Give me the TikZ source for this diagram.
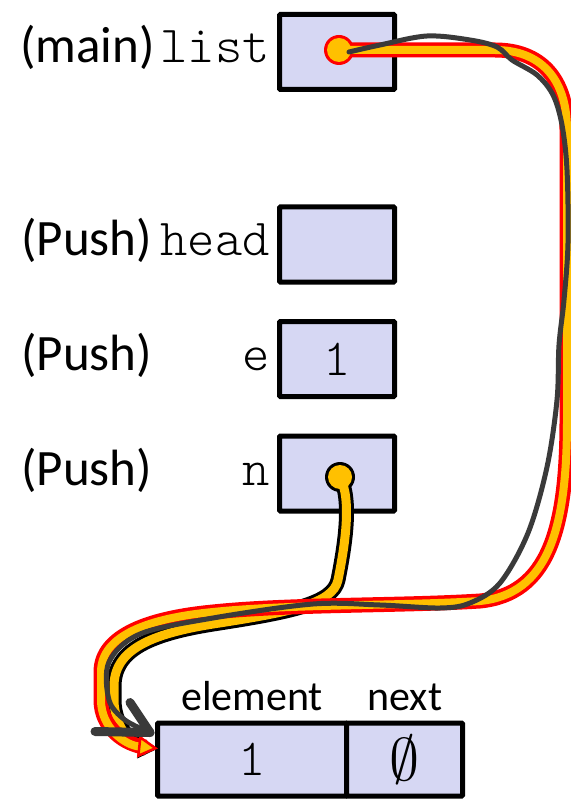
\documentclass[tikz,border=0pt]{standalone}
\usepackage{fontspec}
\setmainfont{Carlito}
\newfontfamily\monofont{Latin Modern Mono Light}
\usetikzlibrary{arrows.meta}
\definecolor{boxfill}{RGB}{214,215,243}
\definecolor{ptrorange}{RGB}{255,192,0}
\definecolor{ptrgray}{RGB}{58,58,58}
\begin{document}
\begin{tikzpicture}[x=1pt,y=-1pt,
  cell/.style={draw=black, line width=5pt, fill=boxfill, minimum width=115pt,
    minimum height=75pt, inner sep=0pt, rounded corners=1pt,
    font=\monofont\fontsize{52}{54}\selectfont},
  lbl/.style={anchor=base west, inner sep=0pt, font=\fontsize{51}{54}\selectfont},
  var/.style={anchor=base east, inner sep=0pt, font=\monofont\fontsize{52}{54}\selectfont},
  field/.style={anchor=base, inner sep=0pt, font=\fontsize{42}{46}\selectfont},
  mainptr/.style={ptrorange, line width=8pt, line join=round,
    preaction={draw=red, line width=15pt, -, shorten >=12pt, line join=round},
    -{Triangle[length=20pt,width=22pt,line width=2.5pt,color=red,fill=ptrorange]}},
  nptr/.style={ptrorange, line width=9pt, line join=round,
    preaction={draw=black, line width=15pt, -, shorten >=12pt, line join=round},
    -{Triangle[length=20pt,width=22pt,line width=2.5pt,color=black,fill=ptrorange]}},
  grayptr/.style={ptrgray, line width=5pt, line cap=round, line join=round},
  graytip/.style={ptrgray, line width=9pt, line cap=round},
]
\useasboundingbox (0,0) rectangle (570,799);

% cells
\node[cell] (list) at (337,52) {};
\node[cell] (head) at (337,244.5) {};
\node[cell] (e) at (337,359) {1};
\node[cell] (n) at (337,473.5) {};
\node[cell, minimum width=189pt, minimum height=73pt] (elem) at (252,759.5) {1};
\node[cell, minimum width=116pt, minimum height=73pt] (next) at (404.5,759.5)
  {\fontsize{20}{22}\selectfont\scalebox{2.9}{$\emptyset$}};

% labels
\node[lbl] (mainlbl) at (20,63) {(main)};
\node[var] (listlbl) at (270,63) {list};
\node[lbl] (push1) at (21,256) {(Push)};
\node[var] (headlbl) at (270,256) {head};
\node[lbl] (push2) at (21,370) {(Push)};
\node[var] (elbl) at (270,370) {e};
\node[lbl] (push3) at (21,485) {(Push)};
\node[var] (nlbl) at (270,485) {n};
\node[field] (elemlbl) at (252,710) {element};
\node[field] (nextlbl) at (405,710) {next};

% pointer anchors
\coordinate (ldot) at (339,50);
\coordinate (ndot) at (340,477);
\coordinate (etip) at ([xshift=3pt,yshift=11pt]elem.west);
\coordinate (gtip) at ([xshift=-5pt,yshift=27pt]elem.west);

% n pointer
\fill[black] (ndot) circle (15pt);
\draw[nptr] (ndot) .. controls (352,500) and (345,545) .. (338,580)
  .. controls (333,604) and (290,612) .. (213,624)
  .. controls (150,634) and (115,650) .. (114,685)
  -- (114,700) .. controls (114,728) and (135,747) .. (etip);
\fill[ptrorange] (ndot) circle (12pt);

% list pointer
\fill[red] (ldot) circle (15pt);
\draw[mainptr] (ldot) -- (495,50) .. controls (540,50) and (567,78) .. (567,130)
  -- (567,420) .. controls (567,530) and (548,594) .. (480,601)
  .. controls (400,606) and (290,604) .. (213,612)
  .. controls (150,618) and (101,635) .. (101,672)
  -- (101,700) .. controls (101,728) and (125,745) .. (etip);
\fill[ptrorange] (ldot) circle (12pt);

% hand-drawn gray pointer
\draw[grayptr] plot[smooth, tension=0.55] coordinates {
  ([xshift=10pt,yshift=-2pt]ldot) (380,45) (427,36) (470,40) (497,47) (512,60)
  (537,75) (553,95) (562,125) (567,170) (568,243) (564,300) (559,345) (557,400)
  (547,467) (528,533) (500,583) (470,603) (440,608) (380,605) (313,604)
  (213,618) (140,634) (109,662) (109,700) (125,720) (gtip)};
\draw[graytip] (gtip) -- ++(-55,-1);
\draw[graytip] (gtip) -- ++(-20,-30);
\end{tikzpicture}
\end{document}
